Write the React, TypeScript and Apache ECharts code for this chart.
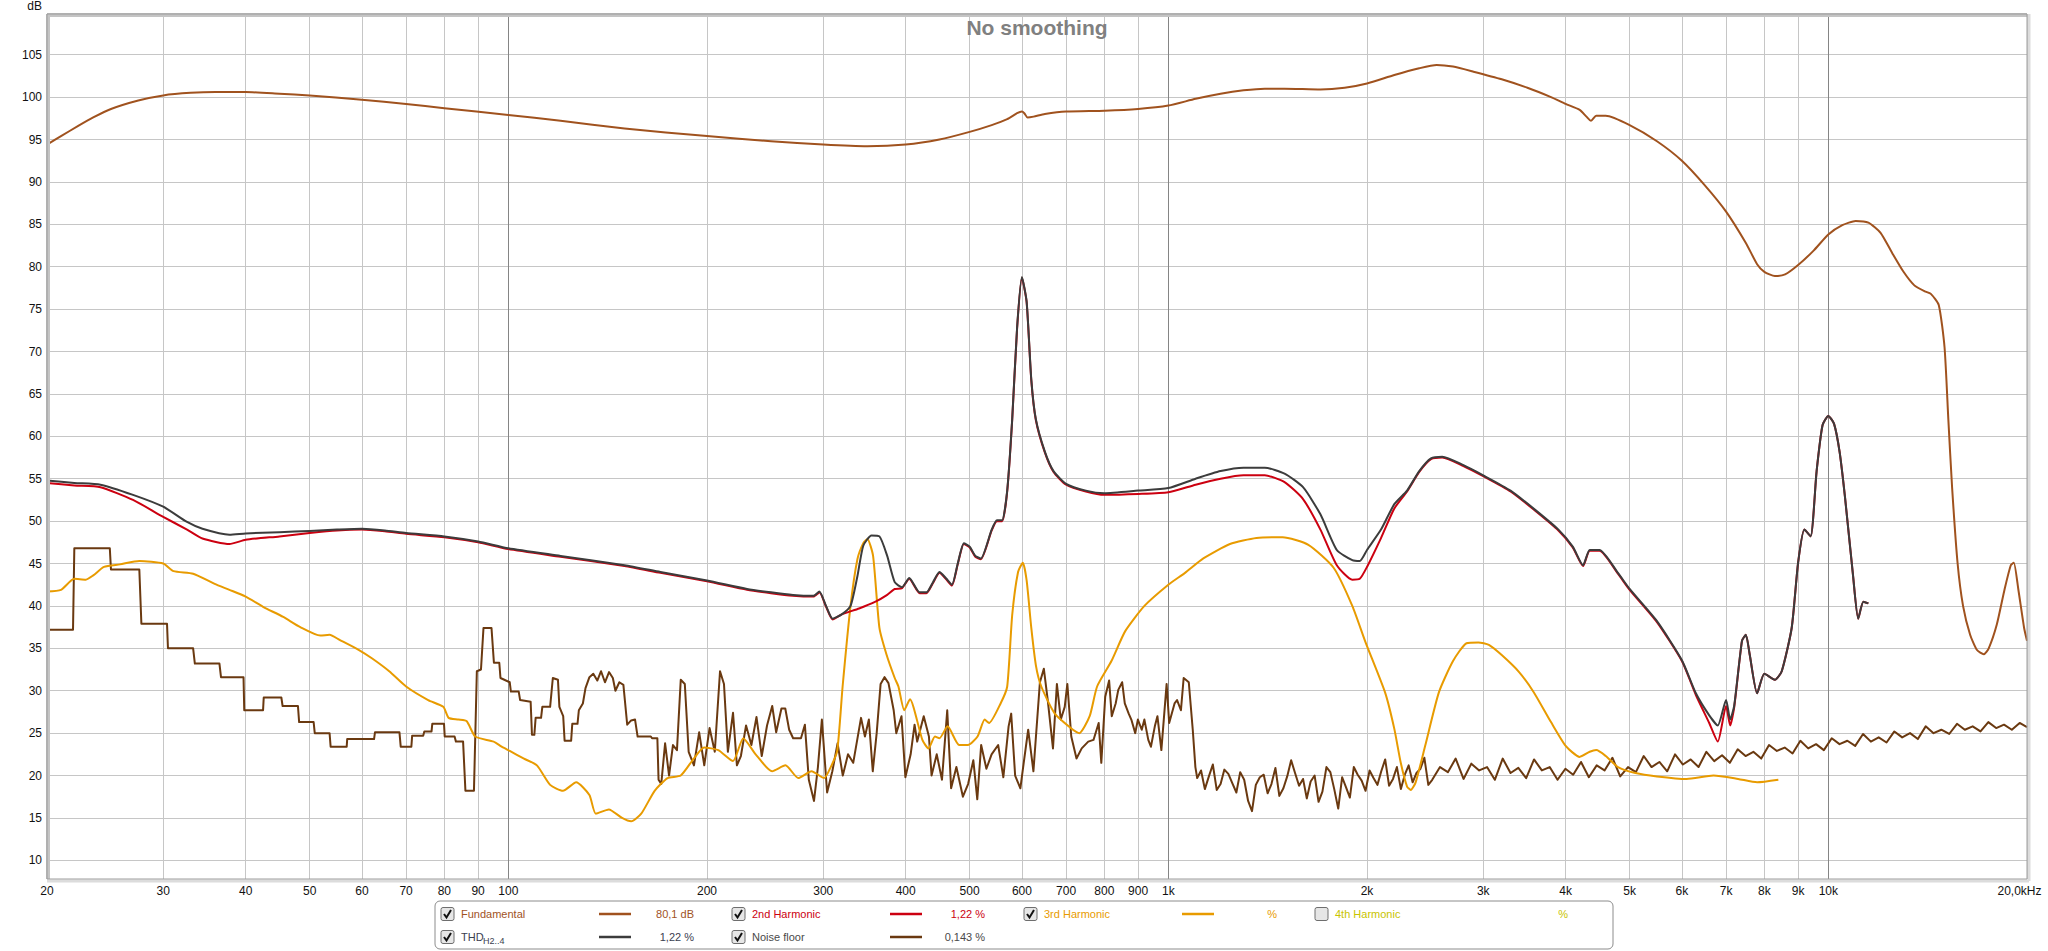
import React, { useEffect, useRef } from "react";
import * as echarts from "echarts";

type P = [number, number];

// ---------- DATA (frequency Hz, level dB) ----------
const fundamental: P[] = [
  [20, 94.4], [21, 95.4], [22.3, 96.6], [23.5, 97.6], [25, 98.6], [27.5, 99.6], [30, 100.2], [33, 100.5],
  [36, 100.6], [40, 100.6], [45, 100.4], [50, 100.2], [60, 99.7], [70, 99.2], [80, 98.7], [100, 97.9],
  [120, 97.2], [150, 96.3], [200, 95.4], [250, 94.8], [300, 94.4], [350, 94.2], [400, 94.4], [450, 95.0],
  [500, 95.9], [540, 96.7], [570, 97.4], [590, 98.1], [600, 98.3], [605, 98.1], [612, 97.6], [625, 97.7],
  [650, 98.0], [700, 98.3], [800, 98.4], [900, 98.6], [1000, 99.0], [1100, 99.8], [1200, 100.4], [1300, 100.8],
  [1400, 101.0], [1500, 101.0], [1700, 100.9], [1850, 101.1], [2000, 101.6], [2200, 102.6], [2400, 103.4],
  [2550, 103.8], [2700, 103.6], [2900, 103.0], [3200, 102.1], [3500, 101.1], [3800, 100.0], [4000, 99.2],
  [4200, 98.5], [4300, 97.7], [4370, 97.2], [4450, 97.8], [4600, 97.8], [5000, 96.7], [5500, 94.8],
  [6000, 92.5], [6500, 89.6], [7000, 86.5], [7500, 82.8], [7800, 80.3], [8000, 79.4], [8300, 78.9],
  [8600, 79.1], [9000, 80.2], [9500, 81.9], [10000, 83.8], [10500, 84.9], [11000, 85.4], [11500, 85.2],
  [12000, 84.0], [12500, 81.6], [13000, 79.4], [13500, 77.8], [14000, 77.1], [14300, 76.8], [14700, 75.5],
  [15000, 70.5], [15200, 62.0], [15400, 54.0], [15700, 45.0], [16000, 40.0], [16400, 36.6], [16800, 34.8],
  [17200, 34.3], [17500, 35.0], [18000, 37.8], [18500, 42.0], [18900, 44.8], [19100, 45.1], [19400, 42.0],
  [19800, 37.4], [20000, 35.9],
];

const thd: P[] = [
  [20, 54.8], [22, 54.5], [24.1, 54.3], [27, 53.1], [30, 51.7], [32.6, 49.9], [34.4, 49.1], [37.8, 48.4],
  [40, 48.55], [45, 48.7], [50, 48.85], [55, 49.0], [60, 49.1], [65, 48.9], [70, 48.6], [80, 48.2],
  [90, 47.6], [100, 46.8], [120, 45.9], [150, 44.8], [170, 44.0], [200, 43.0], [230, 42.0], [250, 41.6],
  [270, 41.3], [290, 41.2], [296, 41.7], [303, 40.0], [310, 38.5], [320, 39.0], [330, 40.0], [338, 43.5],
  [345, 47.1], [355, 48.3], [365, 48.2], [375, 45.9], [385, 42.8], [395, 42.2], [405, 43.3], [420, 41.6],
  [430, 41.6], [440, 42.8], [450, 44.0], [460, 43.3], [470, 42.5], [480, 45.1], [490, 47.4], [500, 47.0],
  [510, 45.9], [520, 45.6], [540, 49.0], [550, 50.1], [560, 50.1], [570, 53.6], [580, 62.0], [590, 72.8],
  [600, 78.8], [610, 75.9], [620, 66.7], [630, 62.0], [650, 58.2], [670, 55.9], [700, 54.4], [750, 53.6],
  [800, 53.3], [900, 53.6], [1000, 53.9], [1100, 55.0], [1200, 55.9], [1300, 56.3], [1400, 56.3],
  [1500, 55.6], [1600, 54.0], [1700, 50.8], [1800, 46.6], [1900, 45.4], [1950, 45.3], [2000, 46.6],
  [2100, 49.0], [2200, 52.0], [2300, 53.6], [2400, 55.9], [2500, 57.4], [2600, 57.6], [2800, 56.6],
  [3000, 55.4], [3300, 53.6], [3600, 51.3], [3900, 49.0], [4100, 47.0], [4250, 44.8], [4350, 46.6],
  [4500, 46.6], [4800, 43.9], [5000, 42.0], [5500, 38.2], [6000, 33.6], [6300, 29.7], [6600, 27.1],
  [6800, 25.9], [7000, 28.9], [7100, 26.6], [7200, 28.2], [7400, 35.9], [7500, 36.6], [7600, 34.3],
  [7800, 29.7], [8000, 32.0], [8300, 31.3], [8500, 32.3], [8800, 37.4], [9000, 45.1], [9200, 49.0],
  [9400, 48.2], [9600, 55.9], [9800, 61.3], [10000, 62.4], [10200, 61.5], [10400, 58.2], [10600, 52.8],
  [10900, 43.6], [11100, 38.5], [11300, 40.5], [11500, 40.3],
];

const harmonic2: P[] = [
  [20, 54.5], [22, 54.2], [24.1, 54.0], [27, 52.5], [30, 50.5], [32.6, 49.0], [34.4, 47.95], [37.8, 47.3],
  [40, 47.8], [45, 48.2], [50, 48.6], [55, 48.9], [60, 49.0], [65, 48.8], [70, 48.5], [80, 48.1],
  [90, 47.5], [100, 46.7], [120, 45.8], [150, 44.7], [170, 43.9], [200, 42.9], [230, 41.9], [250, 41.5],
  [270, 41.2], [290, 41.1], [296, 41.6], [303, 39.9], [310, 38.4], [320, 39.0], [340, 39.7], [360, 40.5],
  [375, 41.3], [385, 42.0], [395, 42.1], [405, 43.2], [420, 41.5], [430, 41.5], [440, 42.7], [450, 43.9],
  [460, 43.2], [470, 42.4], [480, 45.0], [490, 47.3], [500, 46.9], [510, 45.8], [520, 45.5], [540, 48.9],
  [550, 50.0], [560, 50.0], [570, 53.5], [580, 61.9], [590, 72.7], [600, 78.7], [610, 75.8], [620, 66.6],
  [630, 61.9], [650, 58.1], [670, 55.8], [700, 54.3], [750, 53.5], [800, 53.1], [900, 53.2], [1000, 53.4],
  [1100, 54.3], [1200, 55.0], [1300, 55.4], [1400, 55.4], [1500, 54.6], [1600, 52.6], [1700, 49.0],
  [1800, 44.8], [1900, 43.1], [1950, 43.2], [2000, 44.6], [2100, 48.0], [2200, 51.5], [2300, 53.5],
  [2400, 55.8], [2500, 57.3], [2600, 57.5], [2800, 56.5], [3000, 55.3], [3300, 53.5], [3600, 51.2],
  [3900, 48.9], [4100, 46.9], [4250, 44.7], [4350, 46.5], [4500, 46.5], [4800, 43.8], [5000, 41.9],
  [5500, 38.1], [6000, 33.5], [6300, 29.5], [6600, 26.2], [6800, 24.0], [7000, 28.2], [7100, 25.9],
  [7200, 28.0], [7400, 35.9], [7500, 36.6], [7600, 34.3], [7800, 29.7], [8000, 32.0], [8300, 31.3],
  [8500, 32.3], [8800, 37.4], [9000, 45.1], [9200, 49.0], [9400, 48.2], [9600, 55.9], [9800, 61.3],
  [10000, 62.4], [10200, 61.5], [10400, 58.2], [10600, 52.8], [10900, 43.6], [11100, 38.5], [11300, 40.5],
  [11500, 40.3],
];

const harmonic3: P[] = [
  [20, 41.7], [21, 41.9], [22, 43.2], [22.9, 43.1], [23.5, 43.6], [24.4, 44.6], [25.8, 44.9], [27.6, 45.3],
  [30, 45.0], [31.1, 44.1], [33.3, 43.8], [35.9, 42.6], [37.8, 41.9], [40, 41.1], [42.5, 39.9], [45.6, 38.7],
  [48.4, 37.5], [51.9, 36.5], [53.6, 36.6], [55.5, 36.0], [59.4, 34.8], [62.2, 33.8], [66, 32.3], [70, 30.5],
  [75.6, 28.9], [79.7, 28.1], [81.2, 26.8], [84, 26.6], [86.5, 26.4], [89.1, 24.6], [95, 24.0], [97.7, 23.4],
  [100.5, 22.9], [105.6, 22.0], [110.5, 21.2], [115.7, 18.9], [121, 18.2], [126.7, 19.2], [132.7, 17.7],
  [135.7, 15.5], [142, 16.0], [148.7, 15.0], [153.5, 14.6], [159, 15.5], [166.6, 18.2], [174.3, 19.7],
  [182.5, 20.0], [191, 22.0], [198, 23.3], [208, 23.0], [219, 21.7], [227, 24.4], [237, 22.5], [251, 20.5],
  [263, 21.2], [275, 19.7], [288, 20.5], [301, 19.7], [308, 21.0], [315, 22.9], [321, 30.5], [330, 40.0],
  [338, 45.5], [345, 47.4], [350, 47.9], [357, 45.9], [365, 37.4], [374, 34.3], [385, 31.5], [390, 30.5],
  [398, 27.7], [406, 29.0], [424, 24.2], [433, 23.2], [443, 24.6], [450, 24.4], [463, 25.8], [482, 23.6],
  [497, 23.6], [514, 24.6], [527, 26.6], [535, 26.2], [557, 28.5], [570, 30.5], [580, 38.9], [592, 44.0],
  [602, 45.1], [610, 43.0], [620, 37.4], [630, 33.0], [642, 30.5], [673, 27.3], [717, 25.4], [733, 25.0],
  [760, 27.0], [780, 30.5], [820, 33.5], [860, 37.0], [920, 40.0], [1000, 42.5], [1060, 43.9], [1130, 45.6],
  [1240, 47.3], [1360, 48.0], [1490, 48.1], [1630, 47.2], [1780, 44.5], [1900, 40.0], [1990, 35.7],
  [2130, 29.8], [2200, 25.5], [2250, 21.5], [2300, 18.7], [2330, 18.3], [2370, 19.2], [2450, 23.5],
  [2570, 29.8], [2700, 33.5], [2830, 35.6], [2950, 35.7], [3060, 35.4], [3200, 34.2], [3400, 32.2],
  [3580, 29.8], [3800, 26.3], [4000, 23.5], [4200, 22.2], [4350, 22.8], [4450, 23.0], [4600, 22.3],
  [4800, 21.0], [5100, 20.3], [5500, 19.9], [6100, 19.6], [6700, 20.0], [7300, 19.6], [7800, 19.2],
  [8400, 19.5],
];

const noiseFloor: P[] = [
  [20, 37.2], [21.9, 37.2], [22.0, 46.8], [24.9, 46.8], [25.0, 44.3], [27.6, 44.3], [27.8, 37.9], [30.4, 37.9],
  [30.5, 35.0], [33.3, 35.0], [33.5, 33.2], [36.5, 33.2], [36.7, 31.6], [39.7, 31.6], [39.8, 27.7], [42.5, 27.7],
  [42.6, 29.2], [45.3, 29.2], [45.5, 28.2], [48.0, 28.2], [48.2, 26.3], [50.7, 26.3], [50.9, 25.0], [53.6, 25.0],
  [53.8, 23.4], [56.9, 23.4], [57.0, 24.3], [62.6, 24.3], [62.8, 25.1], [68.4, 25.1], [68.7, 23.4], [71.3, 23.4],
  [71.5, 24.7], [74.3, 24.7], [74.6, 25.2], [76.5, 25.2], [76.7, 26.1], [79.9, 26.1], [80.1, 24.6], [82.9, 24.6],
  [83.3, 24.0], [85.4, 24.0], [86.1, 18.2], [88.7, 18.2], [89.6, 32.3], [90.9, 32.5], [91.7, 37.4], [94.3, 37.4],
  [95.1, 33.3], [96.9, 33.3], [97.3, 31.5], [100.5, 31.0], [100.9, 29.9], [103.7, 29.9], [104.2, 28.9],
  [108.1, 28.7], [108.6, 24.8], [109.5, 24.8], [110.0, 26.8], [112.1, 26.8], [112.6, 28.1], [115.7, 28.1],
  [116.8, 31.5], [118.9, 31.3], [119.5, 28.1], [121.1, 27.0], [121.7, 24.1], [124.5, 24.1], [125.0, 26.1],
  [127.3, 26.1], [127.9, 27.7], [129.7, 28.5], [130.9, 30.3], [132.7, 31.6], [134.5, 32.0], [136.4, 31.2],
  [138.2, 32.3], [140.1, 31.0], [142.1, 32.2], [144.0, 31.5], [145.3, 30.0], [147.3, 31.0], [149.4, 30.7],
  [151.4, 26.0], [153.5, 26.5], [155.6, 26.6], [157.0, 24.6], [164.4, 24.6], [165.1, 24.4], [168.2, 24.4],
  [168.9, 19.5], [170.5, 19.0], [172.8, 23.8], [175.2, 20.0], [177.6, 23.6], [180.1, 23.0], [182.5, 31.3],
  [185.1, 30.8], [187.6, 22.8], [191.1, 21.2], [194.6, 25.1], [198.1, 21.2], [201.8, 25.6], [205.5, 22.8],
  [209.3, 32.3], [212.2, 30.8], [215.1, 22.8], [219.0, 27.4], [222.0, 21.2], [225.1, 22.3], [229.2, 25.9],
  [233.5, 23.6], [237.7, 26.9], [242.1, 22.3], [246.6, 25.9], [251.1, 28.2], [254.6, 25.1], [259.3, 27.9],
  [262.8, 27.9], [266.4, 25.4], [270.1, 24.4], [277.6, 24.4], [281.4, 26.0], [285.3, 19.5], [290.5, 17.0],
  [294.5, 21.0], [298.6, 26.6], [304.1, 18.0], [309.7, 20.5], [315.4, 23.8], [321.2, 20.0], [327.1, 22.5],
  [333.1, 21.5], [342.3, 26.8], [347.0, 24.6], [351.8, 26.6], [356.6, 20.5], [361.5, 25.0], [366.5, 30.8],
  [371.5, 31.6], [376.7, 30.9], [383.6, 27.7], [387.1, 25.0], [394.2, 27.0], [399.6, 19.8], [407.0, 22.5],
  [412.6, 26.0], [416.4, 24.0], [426.0, 27.0], [433.8, 24.6], [437.8, 20.0], [445.8, 22.5], [454.0, 19.5],
  [462.4, 27.7], [468.7, 18.5], [477.4, 21.0], [488.4, 17.5], [497.3, 19.0], [506.5, 21.8], [513.5, 17.2],
  [520.5, 23.6], [530.1, 20.8], [539.8, 22.5], [552.3, 23.6], [562.4, 19.8], [572.8, 25.8], [578.0, 27.3],
  [586.0, 20.0], [596.8, 18.5], [605.0, 22.0], [613.3, 25.4], [624.6, 20.5], [638.9, 31.0], [647.7, 32.6],
  [656.6, 28.9], [668.7, 23.2], [677.9, 30.8], [687.2, 26.6], [696.7, 28.1], [703.1, 30.8], [712.8, 24.6],
  [725.9, 22.0], [739.2, 23.2], [756.2, 24.0], [770.2, 24.2], [784.3, 26.2], [791.5, 21.5], [802.4, 29.3],
  [813.4, 31.2], [820.9, 27.0], [832.2, 28.5], [839.8, 30.1], [851.3, 31.0], [859.1, 28.5], [870.9, 27.3],
  [878.9, 26.6], [891.0, 25.0], [899.2, 26.6], [911.5, 25.4], [919.9, 26.6], [932.5, 24.2], [941.1, 23.4],
  [954.0, 25.8], [962.7, 27.0], [976.0, 23.0], [994.1, 30.8], [1003, 26.2], [1022, 28.5], [1031, 28.9],
  [1045, 27.7], [1055, 31.5], [1074, 31.0], [1089, 25.4], [1099, 21.0],
  [1106, 19.7], [1121, 20.6], [1136, 18.4], [1152, 19.9], [1168, 21.3], [1184, 18.3], [1200, 19.0],
  [1216, 20.7], [1233, 20.2], [1250, 19.1], [1268, 18.0], [1285, 20.4], [1303, 19.5], [1321, 17.0],
  [1339, 15.8], [1357, 18.9], [1376, 19.8], [1395, 20.1], [1414, 17.9], [1433, 19.0], [1453, 20.9],
  [1473, 17.6], [1494, 18.5], [1514, 19.9], [1535, 21.8], [1556, 20.3], [1578, 18.8], [1600, 19.6],
  [1621, 17.3], [1643, 19.3], [1666, 20.0], [1689, 16.9], [1712, 18.1], [1736, 21.0], [1760, 20.4],
  [1784, 18.4], [1809, 16.1], [1834, 19.8], [1859, 18.6], [1884, 17.4], [1910, 21.0], [1936, 20.1],
  [1963, 19.4], [1990, 18.2], [2018, 20.6], [2046, 19.7], [2074, 18.9], [2102, 20.5], [2131, 21.9],
  [2160, 18.8], [2190, 19.6], [2220, 21.0], [2251, 18.4], [2282, 20.1], [2313, 21.2], [2345, 19.2],
  [2377, 20.3], [2410, 20.8], [2443, 22.1], [2477, 18.9], [2511, 19.5], [2580, 21.0], [2652, 20.4],
  [2725, 22.0], [2801, 19.6], [2878, 21.4], [2958, 20.6], [3040, 21.0], [3124, 19.5], [3211, 22.0],
  [3300, 20.3], [3391, 20.9], [3485, 19.7], [3582, 21.9], [3681, 20.6], [3783, 21.0], [3888, 19.5],
  [3996, 20.8], [4106, 20.1], [4220, 21.6], [4337, 19.8], [4457, 21.2], [4581, 20.6], [4708, 22.1],
  [4838, 19.9], [4972, 21.0], [5110, 20.4], [5252, 22.3], [5397, 21.0], [5547, 21.6], [5700, 20.5],
  [5858, 22.5], [6021, 21.3], [6187, 21.9], [6359, 21.0], [6535, 22.8], [6716, 21.7], [6902, 22.4],
  [7093, 21.5], [7290, 23.1], [7492, 22.3], [7699, 22.8], [7913, 22.0], [8132, 23.6], [8357, 22.9],
  [8589, 23.3], [8827, 22.6], [9071, 24.1], [9322, 23.2], [9581, 23.7], [9846, 23.0], [10119, 24.4],
  [10399, 23.7], [10687, 24.1], [10983, 23.5], [11288, 24.9], [11600, 24.0], [11922, 24.5], [12252, 23.9],
  [12591, 25.2], [12940, 24.5], [13298, 25.0], [13667, 24.3], [14045, 25.8], [14434, 25.0], [14834, 25.4],
  [15245, 24.9], [15667, 26.1], [16101, 25.4], [16547, 25.8], [17005, 25.2], [17476, 26.3], [17960, 25.6],
  [18458, 26.0], [18969, 25.4], [19494, 26.2], [20000, 25.7],
];

const yTicks = [10, 15, 20, 25, 30, 35, 40, 45, 50, 55, 60, 65, 70, 75, 80, 85, 90, 95, 100, 105];
const xTicks = [20, 30, 40, 50, 60, 70, 80, 90, 100, 200, 300, 400, 500, 600, 700, 800, 900,
  1000, 2000, 3000, 4000, 5000, 6000, 7000, 8000, 9000, 10000, 20000];
const xTickLabels = ["20", "30", "40", "50", "60", "70", "80", "90", "100", "200", "300", "400", "500",
  "600", "700", "800", "900", "1k", "2k", "3k", "4k", "5k", "6k", "7k", "8k", "9k", "10k", "20,0kHz"];
const decadeTicks = [100, 1000, 10000];

const title = "No smoothing";
const yUnit = "dB";

const legendRow1 = [
  { label: "Fundamental", value: "80,1 dB", color: "#a0521e", checked: true, line: true },
  { label: "2nd Harmonic", value: "1,22 %", color: "#cc0010", checked: true, line: true },
  { label: "3rd Harmonic", value: "%", color: "#e89b00", checked: true, line: true },
  { label: "4th Harmonic", value: "%", color: "#c8c400", checked: false, line: false },
];
const legendRow2 = [
  { label: "THD", sub: "H2..4", value: "1,22 %", color: "#3c3c3c", textColor: "#3a4050", checked: true, line: true },
  { label: "Noise floor", value: "0,143 %", color: "#6a3910", textColor: "#4a4a4a", checked: true, line: true },
];

const FONT = "'Liberation Sans', Arial, sans-serif";

function checkbox(x: number, y: number, checked: boolean): any[] {
  const els: any[] = [
    {
      type: "rect",
      shape: { x, y, width: 13, height: 13, r: 2 },
      style: { fill: "#e6e6e6", stroke: "#6e6e6e", lineWidth: 1 },
      silent: true,
    },
  ];
  if (checked) {
    els.push({
      type: "polyline",
      shape: { points: [[x + 3, y + 6.5], [x + 5.5, y + 10], [x + 10, y + 2.5]] },
      style: { stroke: "#111", lineWidth: 2, fill: "none" },
      silent: true,
    });
  }
  return els;
}

function buildLegend(): any[] {
  const els: any[] = [];
  const boxX = 435, boxY = 901, boxW = 1178, boxH = 48;
  els.push({
    type: "rect",
    shape: { x: boxX, y: boxY, width: boxW, height: boxH, r: 5 },
    style: { fill: "#ffffff", stroke: "#8c8c8c", lineWidth: 1 },
    silent: true,
  });
  const colX = [441, 732, 1024, 1315];
  const rowY = [914, 937];
  const rows = [legendRow1, legendRow2];
  rows.forEach((row: any[], ri) => {
    row.forEach((it: any, ci) => {
      const x0 = colX[ci];
      const yc = rowY[ri];
      els.push(...checkbox(x0, yc - 6.5, it.checked));
      els.push({
        type: "text",
        x: x0 + 20,
        y: yc,
        style: { text: it.label, fill: it.textColor || it.color, font: `11px ${FONT}`, textVerticalAlign: "middle" },
        silent: true,
      });
      if (it.sub) {
        els.push({
          type: "text",
          x: x0 + 42,
          y: yc + 4,
          style: { text: it.sub, fill: it.textColor || it.color, font: `9px ${FONT}`, textVerticalAlign: "middle" },
          silent: true,
        });
      }
      if (it.line) {
        els.push({
          type: "line",
          shape: { x1: x0 + 158, y1: yc, x2: x0 + 190, y2: yc },
          style: { stroke: it.color, lineWidth: 2.5 },
          silent: true,
        });
      }
      els.push({
        type: "text",
        x: x0 + 253,
        y: yc,
        style: { text: it.value, fill: it.textColor || it.color, font: `11px ${FONT}`, textAlign: "right", textVerticalAlign: "middle" },
        silent: true,
      });
    });
  });
  return els;
}

export default function App() {
  const ref = useRef<HTMLDivElement>(null);
  useEffect(() => {
    if (!ref.current) return;
    const chart = echarts.init(ref.current, undefined, { renderer: "svg" });
    const left = 47, right = 21, top = 14, bottom = 72;
    const W = 2048, H = 951;
    const gx1 = left, gx2 = W - right, gy1 = top, gy2 = H - bottom;

    const gridLines: any[] = [
      ...yTicks.map((v) => ({
        yAxis: v,
        lineStyle: { color: "#c6c6c6", width: 1, type: "solid" },
        label: { show: true, position: "start", formatter: String(v), color: "#111", fontSize: 12, fontFamily: FONT, distance: 5 },
      })),
      ...xTicks.map((v, i) => ({
        xAxis: v,
        lineStyle: { color: decadeTicks.includes(v) ? "#858585" : "#c6c6c6", width: 1, type: "solid" },
        label: {
          show: true, position: "start", formatter: xTickLabels[i], color: "#111", fontSize: 12, fontFamily: FONT,
          distance: 6, padding: v === 20000 ? [0, 15, 0, 0] : 0,
        },
      })),
    ];

    const lineSeries = (name: string, data: P[], color: string, z: number, smooth: number | boolean, width = 2) => ({
      name,
      type: "line",
      data,
      z,
      showSymbol: false,
      symbol: "none",
      smooth,
      clip: true,
      silent: true,
      lineStyle: { color, width, join: "round" },
      emphasis: { disabled: true },
    });

    const option: any = {
      animation: false,
      backgroundColor: "#ffffff",
      grid: { left, right, top, bottom, show: false },
      xAxis: {
        type: "log", logBase: 10, min: 20, max: 20000,
        axisLine: { show: false }, axisTick: { show: false }, axisLabel: { show: false },
        splitLine: { show: false }, minorSplitLine: { show: false },
      },
      yAxis: {
        type: "value", min: 7.8, max: 109.8,
        axisLine: { show: false }, axisTick: { show: false }, axisLabel: { show: false },
        splitLine: { show: false },
      },
      series: [
        {
          name: "grid", type: "line", data: [], z: 1, silent: true,
          markLine: { silent: true, z: 1, symbol: ["none", "none"], animation: false, data: gridLines },
        },
        lineSeries("Noise floor", noiseFloor, "#6a3910", 3, false),
        lineSeries("3rd Harmonic", harmonic3, "#e89b00", 4, 0.2),
        lineSeries("2nd Harmonic", harmonic2, "#cc0010", 5, 0.2),
        lineSeries("THD", thd, "#3c3c3c", 6, 0.2),
        lineSeries("Fundamental", fundamental, "#a0521e", 7, 0.2),
      ],
      graphic: [
        // frame
        { type: "line", shape: { x1: gx1, y1: gy1 + 1, x2: gx2, y2: gy1 + 1 }, style: { stroke: "#c4c4c4", lineWidth: 4 }, z: 20, silent: true },
        { type: "line", shape: { x1: gx1 + 1, y1: gy1, x2: gx1 + 1, y2: gy2 }, style: { stroke: "#c4c4c4", lineWidth: 4 }, z: 20, silent: true },
        { type: "line", shape: { x1: gx1, y1: gy2 + 2, x2: gx2 + 2, y2: gy2 + 2 }, style: { stroke: "#dcdcdc", lineWidth: 3 }, z: 19, silent: true },
        { type: "line", shape: { x1: gx2 + 2, y1: gy1, x2: gx2 + 2, y2: gy2 + 2 }, style: { stroke: "#dcdcdc", lineWidth: 3 }, z: 19, silent: true },
        { type: "rect", shape: { x: gx1, y: gy1, width: gx2 - gx1, height: gy2 - gy1 }, style: { fill: "none", stroke: "#9c9c9c", lineWidth: 1 }, z: 21, silent: true },
        // title
        {
          type: "text", x: (gx1 + gx2) / 2, y: 27, z: 22, silent: true,
          style: { text: title, fill: "#808080", font: `bold 21px ${FONT}`, textAlign: "center", textVerticalAlign: "middle" },
        },
        {
          type: "text", x: 42, y: 6, z: 22, silent: true,
          style: { text: yUnit, fill: "#111", font: `12px ${FONT}`, textAlign: "right", textVerticalAlign: "middle" },
        },
        ...buildLegend(),
      ],
    };
    chart.setOption(option);
    return () => chart.dispose();
  }, []);
  return <div ref={ref} style={{ position: "fixed", left: 0, top: 0, width: "2048px", height: "951px", background: "#fff" }} />;
}
